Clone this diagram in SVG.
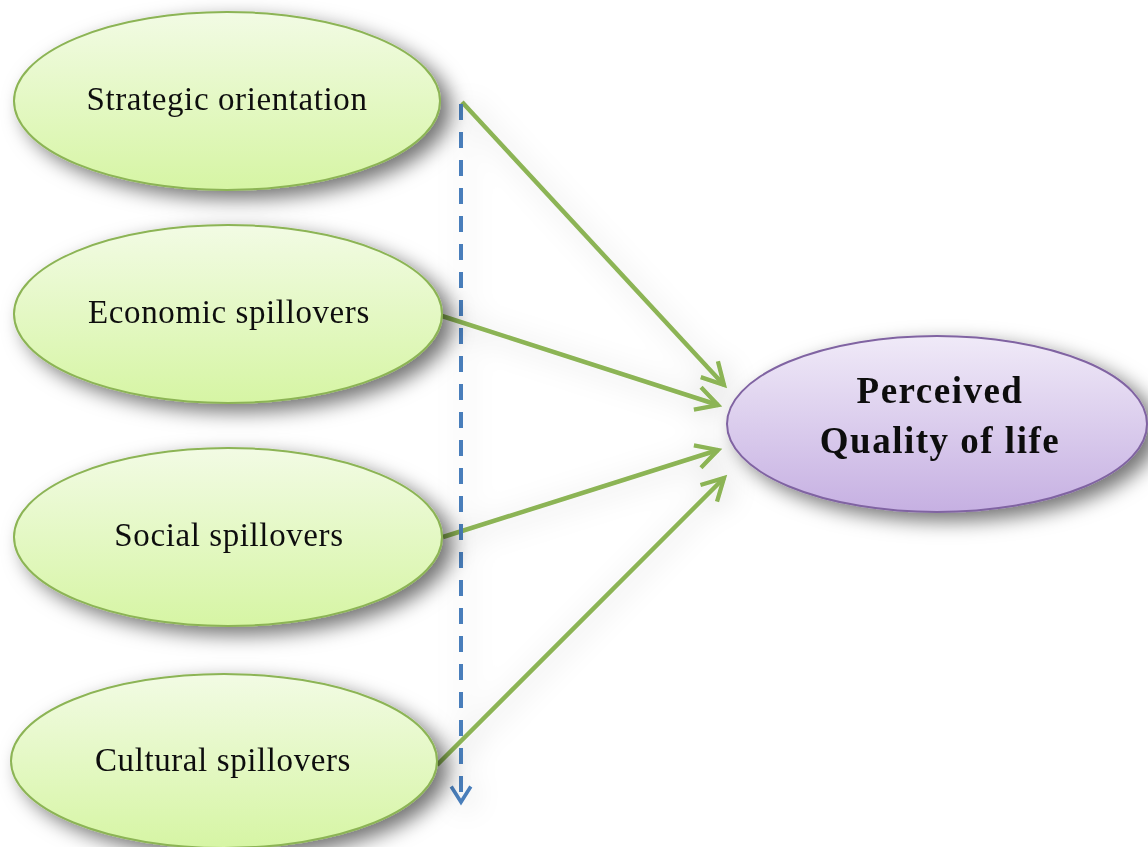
<svg xmlns="http://www.w3.org/2000/svg" width="1148" height="847" viewBox="0 0 1148 847">
<defs>
<linearGradient id="gg" x1="0" y1="0" x2="0" y2="1">
<stop offset="0" stop-color="#f2fbe4"/><stop offset="1" stop-color="#d6f5a4"/>
</linearGradient>
<linearGradient id="pg" x1="0" y1="0" x2="0" y2="1">
<stop offset="0" stop-color="#f0eaf8"/><stop offset="1" stop-color="#c6b0e2"/>
</linearGradient>
<filter id="sh" x="-20%" y="-20%" width="150%" height="160%">
<feDropShadow dx="10" dy="8" stdDeviation="10" flood-color="#000" flood-opacity="0.55"/>
</filter>
<filter id="lsh" x="-20%" y="-20%" width="140%" height="140%">
<feDropShadow dx="4" dy="4" stdDeviation="14" flood-color="#000" flood-opacity="0.2"/>
</filter>
<marker id="ga" viewBox="0 0 20 20" refX="17" refY="10" markerWidth="8" markerHeight="8" orient="auto" markerUnits="strokeWidth">
<path d="M5 3.5 L17 10 L5 16.5" fill="none" stroke="#8cb455" stroke-width="2.4"/>
</marker>
<marker id="ba" viewBox="0 0 20 20" refX="16" refY="10" markerWidth="7" markerHeight="7" orient="auto" markerUnits="strokeWidth">
<path d="M5 3 L16 10 L5 17" fill="none" stroke="#4a7ebb" stroke-width="2.6"/>
</marker>
<style>
.g{fill:url(#gg);stroke:#8cb455;stroke-width:2}
.p{fill:url(#pg);stroke:#8064a2;stroke-width:2}
.t{font-family:"Liberation Serif",serif;font-size:33px;letter-spacing:0.6px;fill:#111;text-anchor:middle}
.tb{font-family:"Liberation Serif",serif;font-size:37px;letter-spacing:1.5px;font-weight:bold;fill:#111;text-anchor:middle}
.c{fill:none;stroke:#8cb455;stroke-width:4.5}
</style>
</defs>
<rect width="1148" height="847" fill="#fff"/>
<g id="connectors" filter="url(#lsh)">
<line class="c" x1="462" y1="102" x2="724" y2="385" marker-end="url(#ga)"/>
<line class="c" x1="442" y1="316" x2="718" y2="405" marker-end="url(#ga)"/>
<line class="c" x1="443" y1="537" x2="718" y2="450" marker-end="url(#ga)"/>
<line class="c" x1="437" y1="765" x2="724" y2="478" marker-end="url(#ga)"/>
<line x1="461" y1="104" x2="461" y2="802" stroke="#4a7ebb" stroke-width="4" stroke-dasharray="16,12" fill="none" marker-end="url(#ba)"/>
</g>
<g id="n1" filter="url(#sh)"><ellipse class="g" cx="227" cy="101" rx="213" ry="89"/><text class="t" x="227" y="110">Strategic orientation</text></g>
<g id="n2" filter="url(#sh)"><ellipse class="g" cx="228" cy="314" rx="214" ry="89"/><text class="t" x="229" y="323">Economic spillovers</text></g>
<g id="n3" filter="url(#sh)"><ellipse class="g" cx="228" cy="537" rx="214" ry="89"/><text class="t" x="229" y="546">Social spillovers</text></g>
<g id="n4" filter="url(#sh)"><ellipse class="g" cx="224" cy="761" rx="213" ry="87"/><text class="t" x="223" y="771">Cultural spillovers</text></g>
<g id="n5" filter="url(#sh)"><ellipse class="p" cx="937" cy="424" rx="210" ry="88"/><text class="tb" x="940" y="403">Perceived</text><text class="tb" x="940" y="453">Quality of life</text></g>
</svg>
